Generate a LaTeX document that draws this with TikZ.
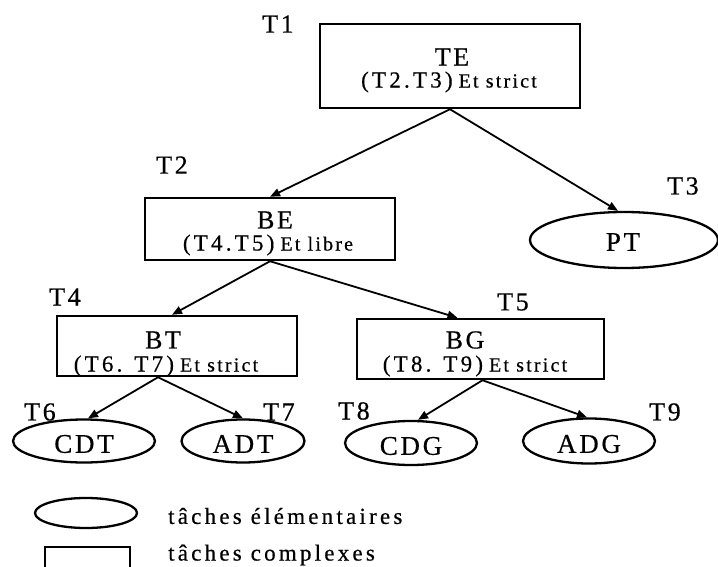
\documentclass[tikz,border=0pt]{standalone}
\usepackage{fontspec}
\setmainfont{Liberation Serif}
\newfontfamily\trackfont[LetterSpace=10,FakeBold=0.5]{Liberation Serif}
\newfontfamily\widefont[LetterSpace=14,FakeBold=0.5]{Liberation Serif}
\newfontfamily\midfont[LetterSpace=11,FakeBold=0.5]{Liberation Serif}
\newfontfamily\legendfont[LetterSpace=14,FakeBold=0.5]{Liberation Serif}
\usetikzlibrary{shapes.geometric,arrows.meta}

% text styles: task labels, node names, composition rules, legend
\newcommand\lblfont{\trackfont\fontsize{26}{26}\selectfont}
\newcommand\namefont{\trackfont\fontsize{26}{26}\selectfont}
\newcommand\leaffont{\trackfont\fontsize{27}{27}\selectfont}
\newcommand\legfont{\legendfont\fontsize{23}{23}\selectfont}
\newcommand\ruletext[2]{{\widefont\fontsize{23}{23}\selectfont #1}\hspace{6pt}{\midfont\fontsize{20}{20}\selectfont #2}}

\tikzset{
  taskbox/.style={draw, line width=2.5pt, rectangle, inner sep=0pt},
  leafbox/.style={draw, line width=2.3pt, ellipse, inner sep=0pt},
  idtext/.style={inner sep=0pt, font=\lblfont},
  nametext/.style={inner sep=0pt, font=\namefont},
  leaftext/.style={inner sep=0pt, font=\leaffont},
  ruleline/.style={inner sep=0pt},
  legtext/.style={inner sep=0pt, anchor=west, font=\legfont},
  link/.style={line width=1.8pt, -{Triangle[length=10pt,width=8pt]}},
}

\begin{document}
\begin{tikzpicture}[x=1pt, y=-1pt]
\useasboundingbox (0,0) rectangle (718,567);
\clip (0,0) rectangle (718,567);

% complex tasks (boxes)
\node[taskbox, minimum width=260pt, minimum height=84pt] (TE) at (450,66) {};
\node[taskbox, minimum width=250pt, minimum height=62pt] (BE) at (270,229) {};
\node[taskbox, minimum width=240pt, minimum height=60pt] (BT) at (177,346) {};
\node[taskbox, minimum width=247pt, minimum height=60pt] (BG) at (480.5,349) {};

% elementary tasks (ellipses)
\node[leafbox, minimum width=188pt, minimum height=56pt] (PT) at (624,240) {};
\node[leafbox, minimum width=142pt, minimum height=43pt] (CDT) at (84,441) {};
\node[leafbox, minimum width=123pt, minimum height=43pt] (ADT) at (243,441) {};
\node[leafbox, minimum width=132pt, minimum height=44pt] (CDG) at (411,443) {};
\node[leafbox, minimum width=132pt, minimum height=45pt] (ADG) at (589,441) {};

% names and composition rules
\node[nametext] (TEn) at (452,57) {TE};
\node[ruleline] (TEr) at (449,82) {\ruletext{(T2.T3)}{Et strict}};
\node[nametext] (BEn) at (275,220) {BE};
\node[ruleline] (BEr) at (268,245) {\ruletext{(T4.T5)}{Et libre}};
\node[nametext] (BTn) at (163,340) {BT};
\node[ruleline] (BTr) at (166,366) {\ruletext{(T6. T7)}{Et strict}};
\node[nametext] (BGn) at (465,340) {BG};
\node[ruleline] (BGr) at (475,366) {\ruletext{(T8. T9)}{Et strict}};

\node[leaftext] (PTn) at (623,242) {PT};
\node[leaftext] (CDTn) at (84,444) {CDT};
\node[leaftext] (ADTn) at (243,444) {ADT};
\node[leaftext] (CDGn) at (411,446) {CDG};
\node[leaftext] (ADGn) at (589,444) {ADG};

% task identifiers
\node[idtext] (L1) at (278,24) {T1};
\node[idtext] (L2) at (172,165) {T2};
\node[idtext] (L3) at (683,186) {T3};
\node[idtext] (L4) at (65,297) {T4};
\node[idtext] (L5) at (513,302) {T5};
\node[idtext] (L6) at (40,412) {T6};
\node[idtext] (L7) at (279,412) {T7};
\node[idtext] (L8) at (354,411) {T8};
\node[idtext] (L9) at (665,412) {T9};

% decomposition links
\draw[link] (TE.south) -- (BE.north);
\draw[link] (TE.south) -- ([xshift=-6pt]PT.north);
\draw[link] (BE.south) -- ([xshift=-5pt]BT.north);
\draw[link] (BE.south) -- ([xshift=-23pt]BG.north);
\draw[link] ([xshift=-19pt]BT.south) -- ([xshift=4pt]CDT.north);
\draw[link] ([xshift=-19pt]BT.south) -- (ADT.north);
\draw[link] ([xshift=2pt]BG.south) -- ([xshift=7pt]CDG.north);
\draw[link] ([xshift=2pt]BG.south) -- ([xshift=-2pt]ADG.north);

% legend
\node[leafbox, minimum width=102pt, minimum height=30pt] (legE) at (86,513) {};
\node[taskbox, minimum width=85pt, minimum height=40pt] (legR) at (87.5,567) {};
\node[legtext] (legEt) at (168,516) {tâches élémentaires};
\node[legtext] (legRt) at (168,555) {tâches complexes};
\end{tikzpicture}
\end{document}
